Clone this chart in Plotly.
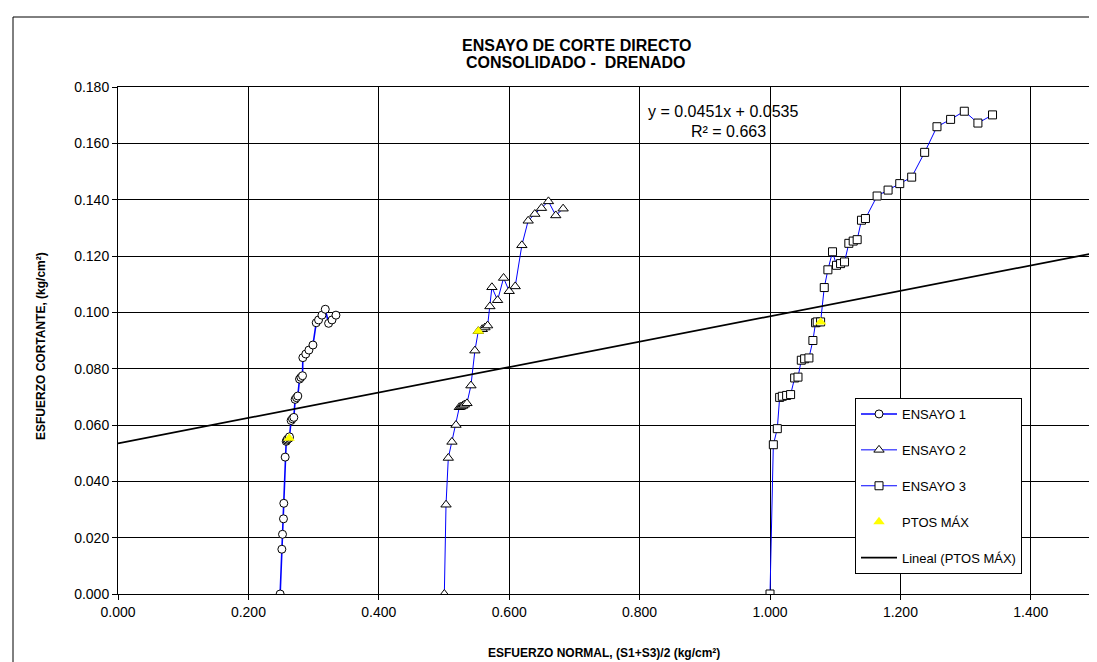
import plotly.graph_objects as go

# ---------------- data ----------------
ensayo1_x = [0.2487, 0.2513, 0.2523, 0.2538, 0.2543, 0.2564, 0.2580, 0.2590, 0.2600, 0.2625, 0.2630,
             0.2655, 0.2676, 0.2697, 0.2717, 0.2738, 0.2758, 0.2784, 0.2805, 0.2830, 0.2835,
             0.2880, 0.2928, 0.2990, 0.3040, 0.3076, 0.3128, 0.3179, 0.3230, 0.3282, 0.3343]
ensayo1_y = [0.0000, 0.0159, 0.0212, 0.0267, 0.0322, 0.0486, 0.0542, 0.0546, 0.0550, 0.0553, 0.0558,
             0.0616, 0.0622, 0.0627, 0.0691, 0.0697, 0.0703, 0.0763, 0.0769, 0.0775, 0.0839,
             0.0852, 0.0866, 0.0884, 0.0963, 0.0973, 0.0990, 0.1011, 0.0961, 0.0973, 0.0990]

ensayo2_x = [0.5005, 0.5031, 0.5066, 0.5122, 0.5184, 0.5235, 0.5260, 0.5286, 0.5311, 0.5352, 0.5413,
             0.5474, 0.5526, 0.5587, 0.5628, 0.5669, 0.5704, 0.5735, 0.5822, 0.5914, 0.6000,
             0.6092, 0.6194, 0.6291, 0.6393, 0.6495, 0.6602, 0.6714, 0.6827]
ensayo2_y = [0.0000, 0.0317, 0.0483, 0.0540, 0.0600, 0.0663, 0.0665, 0.0668, 0.0672, 0.0677, 0.0740,
             0.0864, 0.0933, 0.0940, 0.0946, 0.0953, 0.1021, 0.1089, 0.1043, 0.1122, 0.1075,
             0.1092, 0.1238, 0.1325, 0.1349, 0.1370, 0.1394, 0.1344, 0.1368]

ensayo3_x = [1.0000, 1.0051, 1.0112, 1.0148, 1.0189, 1.0255, 1.0316, 1.0378, 1.0429, 1.0480, 1.0531,
             1.0597, 1.0658, 1.0699, 1.0724, 1.0776, 1.0832, 1.0888, 1.0959, 1.1020, 1.1082,
             1.1143, 1.1209, 1.1276, 1.1337, 1.1403, 1.1464, 1.1643, 1.1811, 1.1990, 1.2173,
             1.2372, 1.2561, 1.2770, 1.2980, 1.3189, 1.3413]
ensayo3_y = [0.0000, 0.0530, 0.0587, 0.0698, 0.0702, 0.0705, 0.0708, 0.0767, 0.0770, 0.0830, 0.0835,
             0.0838, 0.0900, 0.0963, 0.0966, 0.0966, 0.1088, 0.1151, 0.1215, 0.1167, 0.1173,
             0.1179, 0.1245, 0.1253, 0.1258, 0.1327, 0.1333, 0.1413, 0.1434, 0.1457, 0.1480,
             0.1568, 0.1659, 0.1685, 0.1714, 0.1672, 0.1701]

ptos_max_x = [0.2625, 0.5526, 1.0776]
ptos_max_y = [0.0553, 0.0933, 0.0966]

trend_slope = 0.0451
trend_intercept = 0.0535
trend_r2 = 0.663
trend_x = [0.0, 1.5]

x_ticks = [0.0, 0.2, 0.4, 0.6, 0.8, 1.0, 1.2, 1.4]
y_ticks = [0.00, 0.02, 0.04, 0.06, 0.08, 0.10, 0.12, 0.14, 0.16, 0.18]

title_lines = ["ENSAYO DE CORTE DIRECTO", "CONSOLIDADO -  DRENADO"]
x_title = "ESFUERZO NORMAL, (S1+S3)/2 (kg/cm²)"
y_title = "ESFUERZO CORTANTE, (kg/cm²)"

# ---------------- figure ----------------
W, H = 1097, 662
L, R, T, B = 110, 9, 79, 76
PW, PH = W - L - R, H - T - B


def px(xp):
    return (xp - L) / PW


def py(yp):
    return (H - B - yp) / PH


BLUE = "#0000FF"
FONT = "Arial, 'Liberation Sans', sans-serif"
NARROW = "'Liberation Sans Narrow', 'Arial Narrow', Arial, 'Liberation Sans', sans-serif"

fig = go.Figure()

fig.add_trace(go.Scatter(
    x=ensayo1_x, y=ensayo1_y, name="ENSAYO 1", mode="lines+markers",
    line=dict(color=BLUE, width=1.6),
    marker=dict(symbol="circle", size=8, color="white", line=dict(color="black", width=1)),
    legendgroup="g1"))
fig.add_trace(go.Scatter(
    x=ensayo2_x, y=ensayo2_y, name="ENSAYO 2", mode="lines+markers",
    line=dict(color=BLUE, width=1),
    marker=dict(symbol="triangle-up", size=9, color="white", line=dict(color="black", width=1)),
    legendgroup="g2"))
fig.add_trace(go.Scatter(
    x=ensayo3_x, y=ensayo3_y, name="ENSAYO 3", mode="lines+markers",
    line=dict(color=BLUE, width=1),
    marker=dict(symbol="square", size=8, color="white", line=dict(color="black", width=1)),
    legendgroup="g3"))
fig.add_trace(go.Scatter(
    x=ptos_max_x, y=ptos_max_y, name="PTOS MÁX", mode="markers",
    marker=dict(symbol="triangle-up", size=10, color="#FFFF00", line=dict(width=0)),
    legendgroup="g4"))
trend_y = [trend_slope * v + trend_intercept for v in trend_x]
fig.add_trace(go.Scatter(
    x=trend_x, y=trend_y, name="Lineal (PTOS MÁX)", mode="lines",
    line=dict(color="black", width=1.8),
    legendgroup="g5"))

axis_common = dict(
    showgrid=True, gridcolor="black", gridwidth=1,
    showline=True, linecolor="black", linewidth=1, mirror=True,
    ticks="outside", ticklen=5, tickcolor="black", tickwidth=1,
    zeroline=False, tickformat=".3f",
    tickfont=dict(family=FONT, size=14, color="black"),
)

fig.update_xaxes(range=[0, 1.5], tickvals=x_ticks, **axis_common)
fig.update_yaxes(range=[0, 0.18], tickvals=y_ticks, **axis_common)

annotations = [
    dict(text=f"<b>{title_lines[0]}</b>", x=px(568), y=py(37), xref="paper", yref="paper",
         showarrow=False, xanchor="center", yanchor="middle",
         font=dict(family=FONT, size=16, color="black")),
    dict(text=f"<b>{title_lines[1]}</b>", x=px(568), y=py(55), xref="paper", yref="paper",
         showarrow=False, xanchor="center", yanchor="middle",
         font=dict(family=FONT, size=16, color="black")),
    dict(text=f"<b>{x_title}</b>", x=px(596), y=py(645), xref="paper", yref="paper",
         showarrow=False, xanchor="center", yanchor="middle",
         font=dict(family=FONT, size=12, color="black")),
    dict(text=f"<b>{y_title}</b>", x=px(33), y=py(338), xref="paper", yref="paper",
         showarrow=False, xanchor="center", yanchor="middle", textangle=-90,
         font=dict(family=FONT, size=12, color="black")),
    dict(text=f"y = {trend_slope:.4f}x + {trend_intercept:.4f}", x=px(715), y=py(103),
         xref="paper", yref="paper", showarrow=False, xanchor="center", yanchor="middle",
         font=dict(family=FONT, size=16, color="black")),
    dict(text=f"R² = {trend_r2:.3f}", x=px(720), y=py(123),
         xref="paper", yref="paper", showarrow=False, xanchor="center", yanchor="middle",
         font=dict(family=FONT, size=16, color="black")),
]

shapes = [
    dict(type="rect", xref="paper", yref="paper",
         x0=px(5), x1=px(1102), y0=py(668), y1=py(9),
         line=dict(color="black", width=1), fillcolor="rgba(0,0,0,0)", layer="below"),
]

fig.update_layout(
    width=W, height=H, autosize=False,
    margin=dict(l=L, r=R, t=T, b=B),
    paper_bgcolor="white", plot_bgcolor="white",
    font=dict(family=FONT, color="black"),
    showlegend=True,
    legend=dict(
        x=px(847), y=py(390), xanchor="left", yanchor="top",
        bgcolor="white", bordercolor="black", borderwidth=1,
        font=dict(family=NARROW, size=13, color="black"),
        traceorder="grouped", tracegroupgap=16, itemwidth=36,
    ),
    annotations=annotations,
    shapes=shapes,
)

fig.write_html("out.html")
